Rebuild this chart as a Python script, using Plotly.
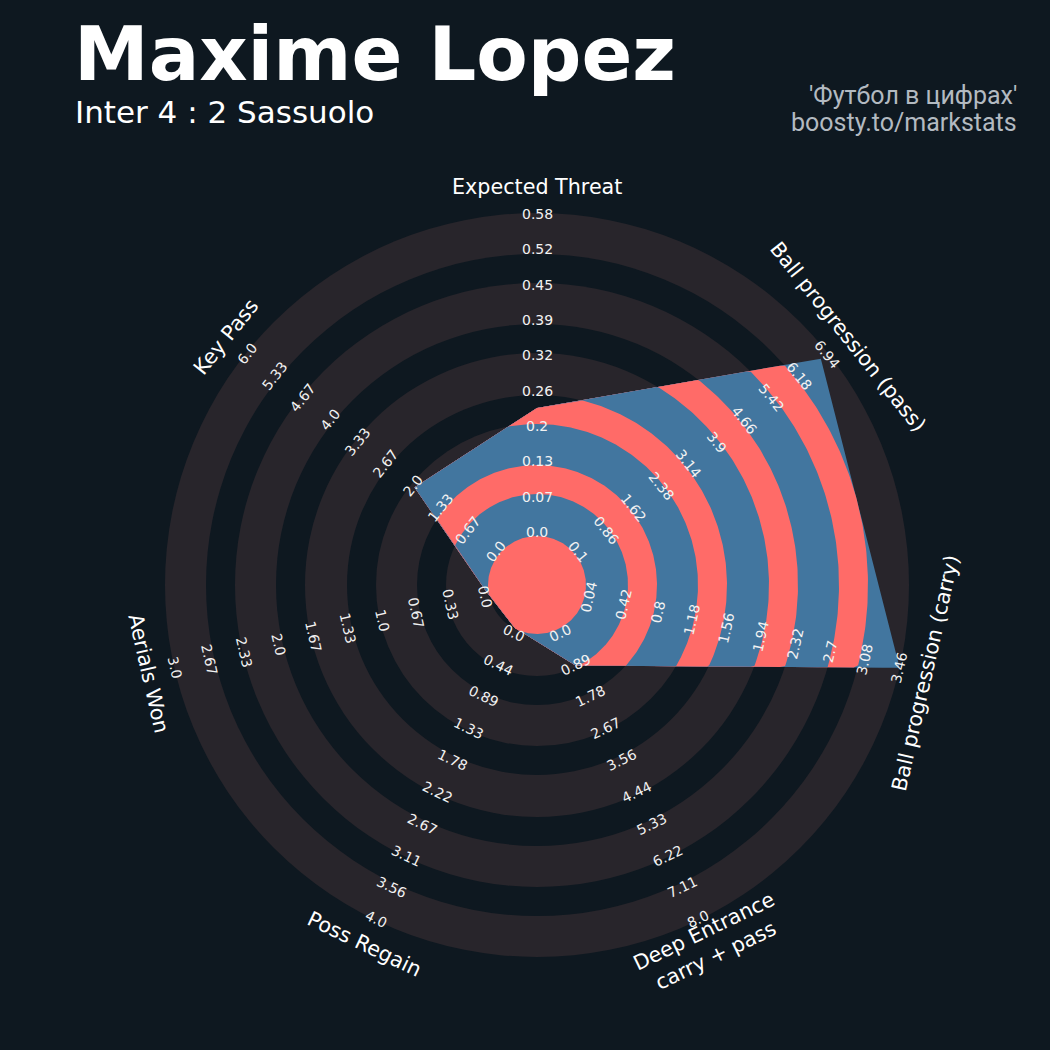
import numpy as np
import plotly.graph_objects as go

# ---- data -------------------------------------------------------------
params = [
    "Expected Threat",
    "Ball progression (pass)",
    "Ball progression (carry)",
    "Deep Entrance<br>carry + pass",
    "Poss Regain",
    "Aerials Won",
    "Key Pass",
]
values = [0.23, 6.75, 3.46, 1.0, 0.0, 0.0, 2.0]

xt_ticks = ["0.0", "0.07", "0.13", "0.2", "0.26", "0.32", "0.39", "0.45", "0.52", "0.58"]
pass_ticks = ["0.1", "0.86", "1.62", "2.38", "3.14", "3.9", "4.66", "5.42", "6.18", "6.94"]
carry_ticks = ["0.04", "0.42", "0.8", "1.18", "1.56", "1.94", "2.32", "2.7", "3.08", "3.46"]
deep_ticks = ["0.0", "0.89", "1.78", "2.67", "3.56", "4.44", "5.33", "6.22", "7.11", "8.0"]
regain_ticks = ["0.0", "0.44", "0.89", "1.33", "1.78", "2.22", "2.67", "3.11", "3.56", "4.0"]
aerial_ticks = ["0.0", "0.33", "0.67", "1.0", "1.33", "1.67", "2.0", "2.33", "2.67", "3.0"]
keypass_ticks = ["0.0", "0.67", "1.33", "2.0", "2.67", "3.33", "4.0", "4.67", "5.33", "6.0"]
tick_sets = [xt_ticks, pass_ticks, carry_ticks, deep_ticks, regain_ticks, aerial_ticks, keypass_ticks]

title = "Maxime Lopez"
subtitle = "Inter 4 : 2 Sassuolo"
credit_lines = ["'Футбол в цифрах'", "boosty.to/markstats"]

# ---- style ------------------------------------------------------------
BG = "#0e1820"
RING = "#28252b"
BLUE = "#42769f"
RED = "#ff6b68"
W = H = 1050
CX, CY = 537, 585          # radar centre in pixels
R_IN, R_OUT = 49, 372       # value 0 -> centre circle edge, max -> outer edge
edges = [49, 91, 120, 161, 190, 232, 261, 302, 331, 372]
LBL_IN, LBL_OUT = 53, 371   # first / last range label radius


def radius(v, lo, hi, r0=R_IN, r1=R_OUT):
    return r0 + (v - lo) / (hi - lo) * (r1 - r0)


n = len(params)
step = 360 / n
ang_deg = 90 - np.arange(n) * step
ang = np.deg2rad(ang_deg)

lows = [float(t[0]) for t in tick_sets]
highs = [float(t[-1]) for t in tick_sets]
rv = np.array([radius(v, lo, hi) for v, lo, hi in zip(values, lows, highs)])
vx, vy = rv * np.cos(ang), rv * np.sin(ang)


def clipped(rmax):
    """radar polygon intersected with a disc of radius rmax"""
    xs, ys = [], []
    for i in range(n):
        j = (i + 1) % n
        px, py = vx[i], vy[i]
        dx, dy = vx[j] - px, vy[j] - py
        for phi in ang[i] - np.linspace(0, 1, 90) * np.deg2rad(step):
            ux, uy = np.cos(phi), np.sin(phi)
            rho = (px * dy - py * dx) / (ux * dy - uy * dx)
            r = min(rho, rmax)
            xs.append(r * ux)
            ys.append(r * uy)
    return xs, ys


def text_angle(a):
    rot = a - 90
    while rot > 90:
        rot -= 180
    while rot <= -90:
        rot += 180
    return -rot


fig = go.Figure()

# background rings
shapes = []
for k in range(len(edges) - 1, -1, -1):
    r = edges[k]
    shapes.append(dict(
        type="circle", xref="x", yref="y", x0=-r, x1=r, y0=-r, y1=r,
        fillcolor=RING if k % 2 else BG, line=dict(width=0), layer="below",
    ))

# radar polygon with rings clipped inside
for k in range(len(edges) - 1, -1, -1):
    xs, ys = clipped(edges[k])
    fig.add_trace(go.Scatter(
        x=xs, y=ys, mode="lines", fill="toself",
        fillcolor=BLUE if k % 2 else RED,
        line=dict(width=0), hoverinfo="skip", showlegend=False,
    ))

annotations = []
# range labels, evenly spaced along each spoke
for i, ticks in enumerate(tick_sets):
    ta = text_angle(ang_deg[i])
    for k, t in enumerate(ticks):
        r = LBL_IN + k * (LBL_OUT - LBL_IN) / (len(ticks) - 1)
        annotations.append(dict(
            x=r * np.cos(ang[i]), y=r * np.sin(ang[i]), xref="x", yref="y",
            text=t, showarrow=False, textangle=ta,
            font=dict(family="DejaVu Sans", size=14, color="#f2f2f2"),
        ))

# parameter labels
for i, p in enumerate(params):
    r = 398
    annotations.append(dict(
        x=r * np.cos(ang[i]), y=r * np.sin(ang[i]), xref="x", yref="y",
        text=p, showarrow=False, textangle=text_angle(ang_deg[i]),
        font=dict(family="DejaVu Sans", size=20.7, color="#ffffff"),
    ))


def px_x(x):
    return x / W


def px_y(y):
    return 1 - y / H


annotations.append(dict(
    x=px_x(72), y=px_y(54), xref="paper", yref="paper", xanchor="left", yanchor="middle",
    text=f"<b>{title}</b>", showarrow=False,
    font=dict(family="DejaVu Sans", size=75, color="#ffffff"),
))
annotations.append(dict(
    x=px_x(73), y=px_y(112), xref="paper", yref="paper", xanchor="left", yanchor="middle",
    text=subtitle, showarrow=False,
    font=dict(family="DejaVu Sans", size=31, color="#ffffff"),
))
for line, yy in zip(credit_lines, [96, 123]):
    annotations.append(dict(
        x=px_x(1019), y=px_y(yy), xref="paper", yref="paper", xanchor="right", yanchor="middle",
        text=line, showarrow=False,
        font=dict(family="Roboto", size=25, color="#b3bac1"),
    ))

fig.update_layout(
    width=W, height=H,
    margin=dict(l=0, r=0, t=0, b=0),
    paper_bgcolor=BG, plot_bgcolor=BG,
    xaxis=dict(range=[-CX, W - CX], visible=False, fixedrange=True),
    yaxis=dict(range=[CY - H, CY], visible=False, fixedrange=True),
    shapes=shapes,
    annotations=annotations,
    showlegend=False,
)

fig.write_html(
    "out.html",
    config={"displayModeBar": False},
    post_script="document.body.style.margin='0';document.body.style.background='" + BG + "';",
)
